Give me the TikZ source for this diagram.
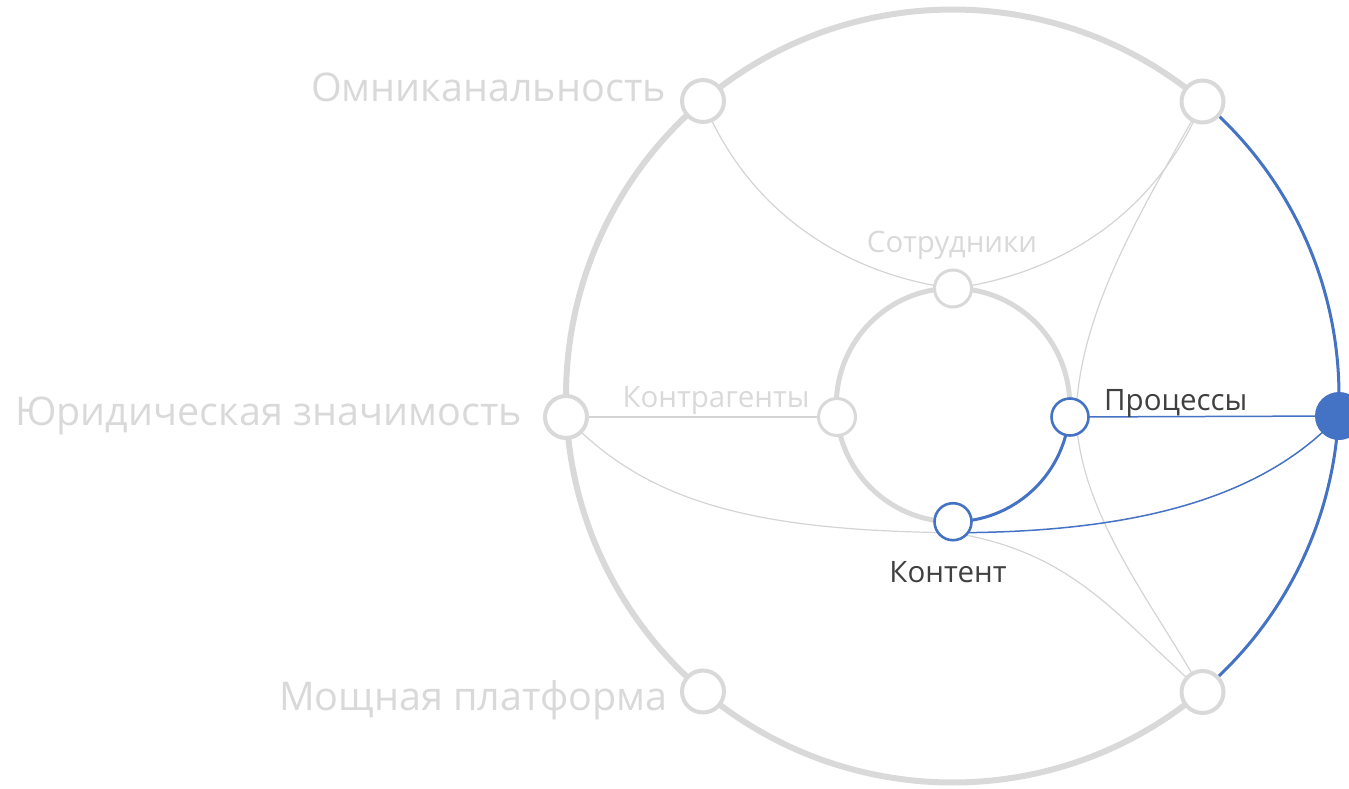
\documentclass[tikz,border=0pt]{standalone}
\usepackage{fontspec}
\setmainfont{Open Sans}
\usetikzlibrary{calc}
\definecolor{lg}{HTML}{D9D9D9}
\definecolor{tl}{HTML}{D4D4D4}
\definecolor{bl}{HTML}{4472C4}
\definecolor{dk}{HTML}{404040}
\pgfdeclarelayer{bg}
\pgfsetlayers{bg,main}
\begin{document}
\begin{tikzpicture}[x=1pt,y=-1pt,
  onode/.style={circle,draw=lg,line width=4pt,fill=white,minimum size=42pt,inner sep=0pt},
  inode/.style={circle,draw=lg,line width=3pt,fill=white,minimum size=37pt,inner sep=0pt},
  ibnode/.style={circle,draw=bl,line width=2.6pt,fill=white,minimum size=37pt,inner sep=0pt},
  bnode/.style={circle,fill=bl,minimum size=48pt,inner sep=0pt},
  biglbl/.style={text=lg,font=\fontsize{39.5}{46}\selectfont,inner sep=0pt},
  smlbl/.style={text=lg,font=\fontsize{29.5}{35}\selectfont,inner sep=0pt},
  dklbl/.style={text=dk,font=\fontsize{29.5}{35}\selectfont,inner sep=0pt},
  thin/.style={tl,line width=1.2pt},
  bthin/.style={bl,line width=1.5pt}]
\useasboundingbox (0,0) rectangle (1349,789);
\coordinate (oc) at (952.5,396);
\coordinate (ic) at (953,405);
% nodes
\node[onode] (omni) at (703,101) {};
\node[onode] (tr) at (1202.5,101.5) {};
\node[onode] (jur) at (566,417) {};
\node[onode] (pl) at (703,691.5) {};
\node[onode] (br) at (1202.5,692) {};
\node[bnode] (blue) at (1339,416) {};
\node[inode] (sotr) at (953,288.5) {};
\node[inode] (kontr) at (837,417) {};
\node[ibnode] (proc) at (1070,417) {};
\node[ibnode] (kont) at (953,521.7) {};
\coordinate (pv) at ($(proc.center)+(6,0)$);
\coordinate (kp) at ($(kont.center)+(0,11)$);
% labels
\node[biglbl,anchor=base east] (l1) at (666,102) {Омниканальность};
\node[biglbl,anchor=base east] (l2) at (522,425) {Юридическая значимость};
\node[biglbl,anchor=base east] (l3) at (668,710) {Мощная платформа};
\node[smlbl,anchor=base] (l4) at (952,252) {Сотрудники};
\node[smlbl,anchor=base] (l5) at (716,407) {Контрагенты};
\node[dklbl,anchor=base west] (l6) at (1104,410) {Процессы};
\node[dklbl,anchor=base] (l7) at (948,582) {Контент};
\begin{pgfonlayer}{bg}
\draw[lg,line width=6pt] ($(oc)+(49.9:386.5)$) arc[start angle=49.9,end angle=310.3,radius=386.5];
\draw[bl,line width=3pt] ($(oc)+(-49.7:386.5)$) arc[start angle=-49.7,end angle=49.9,radius=386.5];
\draw[lg,line width=5pt] ($(ic)+(90:116.7)$) arc[start angle=90,end angle=366,radius=116.7];
\draw[bl,line width=3pt] ($(ic)+(6:116.7)$) arc[start angle=6,end angle=90,radius=116.7];
% thin connectors
\draw[thin] (omni.center) .. controls +(45,110) and +(-110,-15) .. (sotr.center);
\draw[thin] (sotr.center) .. controls +(110,-15) and +(-45,110) .. (tr.center);
\draw[thin] (tr.center) .. controls +(-55,100) and +(3,-110) .. (pv);
\draw[thin] (pv) .. controls +(5,100) and +(-50,-90) .. (br.center);
\draw[thin] (jur.center) .. controls +(80,85) and +(-200,-2) .. (kp);
\draw[thin] (kp) .. controls +(120,20) and +(-90,-80) .. (br.center);
\draw[thin] (jur.center) -- (kontr.center);
\draw[bthin] (kp) .. controls +(200,0) and +(-70,75) .. (blue.center);
\draw[bthin] (proc.center) -- (blue.center);
\end{pgfonlayer}
\end{tikzpicture}
\end{document}
